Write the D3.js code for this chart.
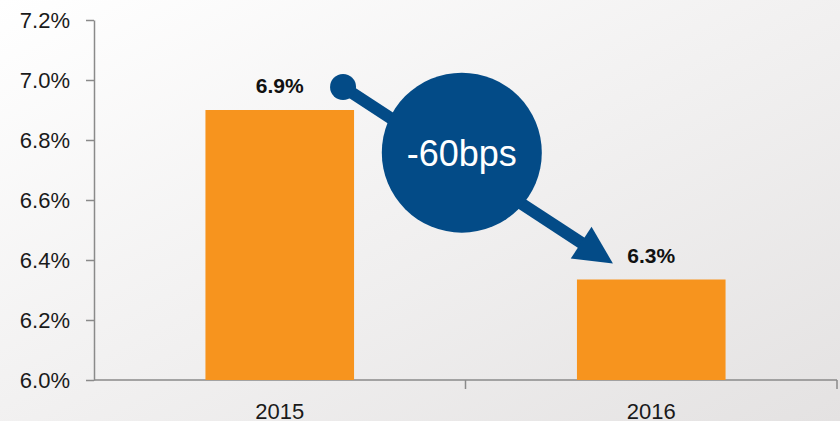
<!DOCTYPE html>
<html>
<head>
<meta charset="utf-8">
<script src="https://cdn.jsdelivr.net/npm/d3@7"></script>
<style>
  html, body { margin: 0; padding: 0; }
  body { width: 840px; height: 421px; overflow: hidden; }
  svg { display: block; font-family: "Liberation Sans", Arial, sans-serif; }
</style>
</head>
<body>
<script>
// chart data
var years = ["2015", "2016"];
var rates = [6.9, 6.335];
var rateLabels = ["6.9%", "6.3%"];
var yTicks = [6.0, 6.2, 6.4, 6.6, 6.8, 7.0, 7.2];
var changeLabel = "-60bps";

var width = 840,
    height = 421;
var margin = { top: 20, right: 3, bottom: 41, left: 94 };

var svg = d3.select("body").append("svg")
    .attr("width", width)
    .attr("height", height);

// soft grey backdrop
var defs = svg.append("defs");
var grad = defs.append("linearGradient")
    .attr("id", "bg")
    .attr("x1", "0%").attr("y1", "0%")
    .attr("x2", "100%").attr("y2", "100%");
grad.append("stop").attr("offset", "0%").attr("stop-color", "#ffffff");
grad.append("stop").attr("offset", "100%").attr("stop-color", "#e4e2e2");
svg.append("rect")
    .attr("width", width).attr("height", height)
    .attr("fill", "url(#bg)");

var x = d3.scaleBand()
    .domain(years)
    .range([margin.left, width - margin.right])
    .paddingInner(0.6)
    .paddingOuter(0.3);

var y = d3.scaleLinear()
    .domain([6.0, 7.2])
    .range([height - margin.bottom, margin.top]);

// y axis
var yAxis = svg.append("g")
    .attr("transform", "translate(" + margin.left + ",0)")
    .call(d3.axisLeft(y)
        .tickValues(yTicks)
        .tickSize(8)
        .tickSizeOuter(0)
        .tickPadding(16)
        .tickFormat(function(d) { return d.toFixed(1) + "%"; }));
yAxis.selectAll("path, line").attr("stroke", "#8a8a8a").attr("stroke-width", 1.5);
yAxis.selectAll("text")
    .attr("fill", "#1a1a1a")
    .style("font-size", "22px")
    .attr("dy", "0.36em");

// x axis: baseline with ticks at band boundaries
var x0 = margin.left, x1 = width - margin.right;
var xAxis = svg.append("g").attr("class", "x-axis");
xAxis.append("line")
    .attr("x1", x0).attr("x2", x1)
    .attr("y1", y(6.0)).attr("y2", y(6.0))
    .attr("stroke", "#8a8a8a").attr("stroke-width", 1.5);
xAxis.selectAll(".bound")
    .data(years)
    .enter().append("line")
    .attr("class", "bound")
    .attr("x1", function(d, i) { return x0 + x.step() * (i + 1); })
    .attr("x2", function(d, i) { return x0 + x.step() * (i + 1); })
    .attr("y1", y(6.0))
    .attr("y2", y(6.0) + 9)
    .attr("stroke", "#8a8a8a").attr("stroke-width", 1.5);
xAxis.selectAll(".xlab")
    .data(years)
    .enter().append("text")
    .attr("class", "xlab")
    .attr("x", function(d) { return x(d) + x.bandwidth() / 2; })
    .attr("y", y(6.0) + 39)
    .attr("text-anchor", "middle")
    .attr("fill", "#1a1a1a")
    .style("font-size", "22px")
    .text(function(d) { return d; });

// bars
svg.append("g")
    .selectAll("rect")
    .data(years)
    .enter().append("rect")
    .attr("x", function(d) { return x(d); })
    .attr("width", x.bandwidth())
    .attr("y", function(d, i) { return y(rates[i]); })
    .attr("height", function(d, i) { return y(6.0) - y(rates[i]); })
    .attr("fill", "#f7941e");

// value labels
svg.append("g")
    .selectAll("text")
    .data(years)
    .enter().append("text")
    .attr("x", function(d) { return x(d) + x.bandwidth() / 2; })
    .attr("y", function(d, i) { return y(rates[i]) - 17; })
    .attr("text-anchor", "middle")
    .attr("fill", "#111")
    .style("font-size", "21px")
    .style("font-weight", "bold")
    .text(function(d, i) { return rateLabels[i]; });

// change arrow with bubble
var blue = "#034b87";
var sx = x(years[0]) + x.bandwidth() - 11,
    sy = y(rates[0]) - 23,
    ex = x(years[1]) + 36,
    ey = y(rates[1]) - 16;
var ang = Math.atan2(ey - sy, ex - sx);
var headLen = 38, headHalf = 19;
var bx = ex - headLen * Math.cos(ang),
    by = ey - headLen * Math.sin(ang);
var nx = -Math.sin(ang), ny = Math.cos(ang);

var arrow = svg.append("g");
arrow.append("line")
    .attr("x1", sx).attr("y1", sy)
    .attr("x2", bx + 4 * Math.cos(ang)).attr("y2", by + 4 * Math.sin(ang))
    .attr("stroke", blue).attr("stroke-width", 12);
arrow.append("circle")
    .attr("cx", sx).attr("cy", sy).attr("r", 13)
    .attr("fill", blue);
arrow.append("path")
    .attr("d", "M" + ex + "," + ey +
        "L" + (bx + nx * headHalf) + "," + (by + ny * headHalf) +
        "L" + (bx - nx * headHalf) + "," + (by - ny * headHalf) + "Z")
    .attr("fill", blue);

var cx = sx + (ex - sx) * 0.44,
    cy = sy + (ey - sy) * 0.44 - 12;
arrow.append("circle")
    .attr("cx", cx).attr("cy", cy).attr("r", 80)
    .attr("fill", blue);
arrow.append("text")
    .attr("x", cx).attr("y", cy + 13)
    .attr("text-anchor", "middle")
    .attr("fill", "#ffffff")
    .style("font-size", "36px")
    .text(changeLabel);
</script>
</body>
</html>
